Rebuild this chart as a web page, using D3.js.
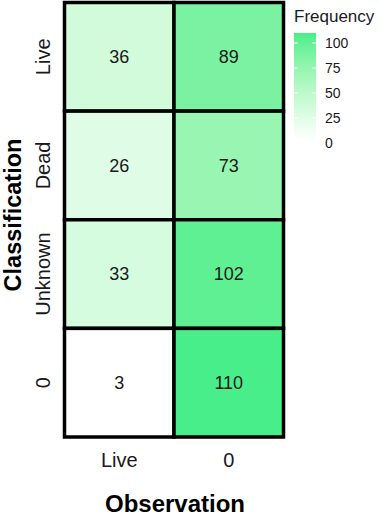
<!DOCTYPE html>
<html>
<head>
<meta charset="utf-8">
<script src="https://cdn.jsdelivr.net/npm/d3@7"></script>
<style>
  body { margin: 0; background: #fff; }
  text { font-family: "Liberation Sans", Arial, sans-serif; }
</style>
</head>
<body>
<div id="chart"></div>
<script>
// data
var observations = ["Live", "0"];
var classifications = ["Live", "Dead", "Unknown", "0"];
var liveCol = [36, 26, 33, 3];
var zeroCol = [89, 73, 102, 110];
var legendTicks = [0, 25, 50, 75, 100];

var cells = [];
classifications.forEach(function(c, i) {
  cells.push({obs: "Live", cls: c, n: liveCol[i]});
  cells.push({obs: "0", cls: c, n: zeroCol[i]});
});

var width = 381, height = 516;
var svg = d3.select("#chart").append("svg")
  .attr("width", width)
  .attr("height", height);

var x = d3.scaleBand().domain(observations).range([64.5, 283.5]);
var y = d3.scaleBand().domain(classifications).range([2.5, 437]);

var nMin = d3.min(cells, function(d) { return d.n; });
var nMax = d3.max(cells, function(d) { return d.n; });
var color = d3.scaleLinear()
  .domain([nMin, nMax])
  .range(["#ffffff", "#48ee8a"])
  .interpolate(d3.interpolateLab);

// tiles
var g = svg.append("g");
g.selectAll("rect.tile")
  .data(cells)
  .enter().append("rect")
  .attr("class", "tile")
  .attr("x", function(d) { return x(d.obs); })
  .attr("y", function(d) { return y(d.cls); })
  .attr("width", x.bandwidth())
  .attr("height", y.bandwidth())
  .style("fill", function(d) { return color(d.n); })
  .style("stroke", "#000")
  .style("stroke-width", 3.5);

g.selectAll("text.lab")
  .data(cells)
  .enter().append("text")
  .attr("class", "lab")
  .attr("x", function(d) { return x(d.obs) + x.bandwidth() / 2; })
  .attr("y", function(d) { return y(d.cls) + y.bandwidth() / 2; })
  .attr("dy", "0.35em")
  .attr("text-anchor", "middle")
  .style("font-size", "18px")
  .style("fill", "#1a1a1a")
  .text(function(d) { return d.n; });

// x axis labels
svg.selectAll("text.xtick")
  .data(observations)
  .enter().append("text")
  .attr("class", "xtick")
  .attr("x", function(d) { return x(d) + x.bandwidth() / 2; })
  .attr("y", 467)
  .attr("text-anchor", "middle")
  .style("font-size", "20px")
  .style("fill", "#1a1a1a")
  .text(function(d) { return d; });

// y axis labels (rotated)
svg.selectAll("text.ytick")
  .data(classifications)
  .enter().append("text")
  .attr("class", "ytick")
  .attr("transform", function(d) {
    return "translate(50," + (y(d) + y.bandwidth() / 2) + ") rotate(-90)";
  })
  .attr("text-anchor", "middle")
  .style("font-size", "20px")
  .style("fill", "#1a1a1a")
  .text(function(d) { return d; });

// axis titles
svg.append("text")
  .attr("x", 175)
  .attr("y", 512)
  .attr("text-anchor", "middle")
  .style("font-size", "24px")
  .style("font-weight", "bold")
  .text("Observation");

svg.append("text")
  .attr("transform", "translate(21,215) rotate(-90)")
  .attr("text-anchor", "middle")
  .style("font-size", "23.5px")
  .style("font-weight", "bold")
  .text("Classification");

// legend
var leg = svg.append("g");
leg.append("text")
  .attr("x", 294)
  .attr("y", 22)
  .style("font-size", "17px")
  .style("fill", "#1a1a1a")
  .text("Frequency");

var ly = d3.scaleLinear().domain([0, 100]).range([143, 43]);
var defs = svg.append("defs");
var grad = defs.append("linearGradient")
  .attr("id", "freqGrad")
  .attr("x1", 0).attr("y1", 1).attr("x2", 0).attr("y2", 0);
d3.range(0, 11).forEach(function(i) {
  var v = nMin + (nMax - nMin) * i / 10;
  grad.append("stop")
    .attr("offset", (i * 10) + "%")
    .attr("stop-color", color(v));
});

var barX = 294, barW = 22;
leg.append("rect")
  .attr("x", barX)
  .attr("y", ly(nMax))
  .attr("width", barW)
  .attr("height", ly(nMin) - ly(nMax))
  .style("fill", "url(#freqGrad)");

legendTicks.forEach(function(t) {
  leg.append("line")
    .attr("x1", barX).attr("x2", barX + 4)
    .attr("y1", ly(t)).attr("y2", ly(t))
    .style("stroke", "#fff").style("stroke-width", 1);
  leg.append("line")
    .attr("x1", barX + barW - 4).attr("x2", barX + barW)
    .attr("y1", ly(t)).attr("y2", ly(t))
    .style("stroke", "#fff").style("stroke-width", 1);
});

leg.selectAll("text.ltick")
  .data(legendTicks)
  .enter().append("text")
  .attr("class", "ltick")
  .attr("x", 325)
  .attr("y", function(d) { return ly(d); })
  .attr("dy", "0.35em")
  .style("font-size", "14px")
  .style("fill", "#1a1a1a")
  .text(function(d) { return d; });
</script>
</body>
</html>
